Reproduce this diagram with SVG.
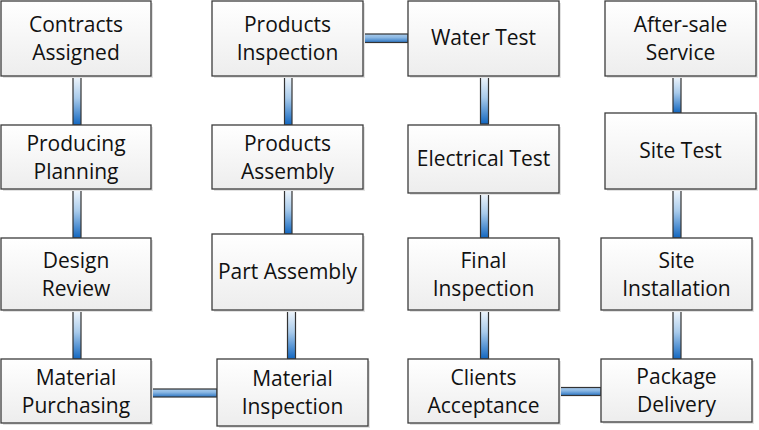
<svg xmlns="http://www.w3.org/2000/svg" width="759" height="430" viewBox="0 0 759 430">
<defs>
<linearGradient id="boxFill" x1="0" y1="0" x2="0" y2="1">
<stop offset="0" stop-color="#ffffff"/>
<stop offset="1" stop-color="#ededed"/>
</linearGradient>
<linearGradient id="vBar" x1="0" y1="0" x2="0" y2="1">
<stop offset="0" stop-color="#f2f7fc"/>
<stop offset="0.45" stop-color="#a9cbeb"/>
<stop offset="1" stop-color="#1166c0"/>
</linearGradient>
<linearGradient id="hBar" x1="0" y1="0" x2="0" y2="1">
<stop offset="0" stop-color="#a8cbec"/>
<stop offset="0.4" stop-color="#8cb8e3"/>
<stop offset="1" stop-color="#2a74c2"/>
</linearGradient>
</defs>
<style>
.shadow{fill:#e2e2e2;}
.box{fill:url(#boxFill);stroke:#3c3c3c;stroke-width:1.3;}
.v{fill:url(#vBar);stroke:#333;stroke-width:1.2;}
.h{fill:url(#hBar);stroke:#333;stroke-width:1.2;}
text{font-family:"Open Sans","Noto Sans","Liberation Sans",sans-serif;font-size:21px;fill:#111;text-anchor:middle;}
</style>
<rect width="759" height="430" fill="#ffffff"/>
<g id="connectors">
<rect class="v" x="73" y="76" width="8" height="49"/>
<rect class="v" x="73" y="189" width="8" height="49"/>
<rect class="v" x="73" y="310" width="8" height="49"/>
<rect class="h" x="151" y="389" width="66" height="8"/>
<rect class="v" x="287.5" y="310" width="8" height="49"/>
<rect class="v" x="284.5" y="189" width="7.5" height="45"/>
<rect class="v" x="284.5" y="76" width="7.5" height="49"/>
<rect class="h" x="363" y="34" width="45" height="8.5"/>
<rect class="v" x="480.5" y="76" width="8" height="48"/>
<rect class="v" x="480.5" y="193" width="8" height="45"/>
<rect class="v" x="480.5" y="310" width="8" height="49"/>
<rect class="h" x="559" y="387.5" width="42" height="8"/>
<rect class="v" x="673" y="310" width="8" height="49"/>
<rect class="v" x="673" y="189" width="8" height="49"/>
<rect class="v" x="673" y="76" width="8" height="37"/>
</g>
<g id="n-contracts-assigned">
<rect class="shadow" x="3" y="3" width="150" height="75"/>
<rect class="box" x="1" y="1" width="150" height="75"/>
<text x="76" y="32">Contracts</text><text x="76" y="60">Assigned</text>
</g>
<g id="n-producing-planning">
<rect class="shadow" x="3" y="127" width="150" height="64"/>
<rect class="box" x="1" y="125" width="150" height="64"/>
<text x="76" y="150.5">Producing</text><text x="76" y="178.5">Planning</text>
</g>
<g id="n-design-review">
<rect class="shadow" x="3" y="240" width="150" height="72"/>
<rect class="box" x="1" y="238" width="150" height="72"/>
<text x="76" y="267.5">Design</text><text x="76" y="295.5">Review</text>
</g>
<g id="n-material-purchasing">
<rect class="shadow" x="3" y="361" width="150" height="64"/>
<rect class="box" x="1" y="359" width="150" height="64"/>
<text x="76" y="384.5">Material</text><text x="76" y="412.5">Purchasing</text>
</g>
<g id="n-products-inspection">
<rect class="shadow" x="214" y="3" width="151" height="75"/>
<rect class="box" x="212" y="1" width="151" height="75"/>
<text x="287.5" y="32">Products</text><text x="287.5" y="60">Inspection</text>
</g>
<g id="n-products-assembly">
<rect class="shadow" x="214" y="127" width="151" height="64"/>
<rect class="box" x="212" y="125" width="151" height="64"/>
<text x="287.5" y="150.5">Products</text><text x="287.5" y="178.5">Assembly</text>
</g>
<g id="n-part-assembly">
<rect class="shadow" x="214" y="236" width="151" height="76"/>
<rect class="box" x="212" y="234" width="151" height="76"/>
<text x="287.5" y="279">Part Assembly</text>
</g>
<g id="n-material-inspection">
<rect class="shadow" x="219" y="361" width="151" height="67"/>
<rect class="box" x="217" y="359" width="151" height="67"/>
<text x="292.5" y="386">Material</text><text x="292.5" y="414">Inspection</text>
</g>
<g id="n-water-test">
<rect class="shadow" x="410" y="3" width="151" height="75"/>
<rect class="box" x="408" y="1" width="151" height="75"/>
<text x="483.5" y="45">Water Test</text>
</g>
<g id="n-electrical-test">
<rect class="shadow" x="410" y="127" width="151" height="68"/>
<rect class="box" x="408" y="125" width="151" height="68"/>
<text x="483.5" y="166">Electrical Test</text>
</g>
<g id="n-final-inspection">
<rect class="shadow" x="410" y="240" width="151" height="72"/>
<rect class="box" x="408" y="238" width="151" height="72"/>
<text x="483.5" y="267.5">Final</text><text x="483.5" y="295.5">Inspection</text>
</g>
<g id="n-clients-acceptance">
<rect class="shadow" x="410" y="361" width="151" height="64"/>
<rect class="box" x="408" y="359" width="151" height="64"/>
<text x="483.5" y="384.5">Clients</text><text x="483.5" y="412.5">Acceptance</text>
</g>
<g id="n-after-sale-service">
<rect class="shadow" x="607" y="3" width="151" height="75"/>
<rect class="box" x="605" y="1" width="151" height="75"/>
<text x="680.5" y="32">After-sale</text><text x="680.5" y="60">Service</text>
</g>
<g id="n-site-test">
<rect class="shadow" x="607" y="115" width="151" height="76"/>
<rect class="box" x="605" y="113" width="151" height="76"/>
<text x="680.5" y="158">Site Test</text>
</g>
<g id="n-site-installation">
<rect class="shadow" x="603" y="240" width="151" height="72"/>
<rect class="box" x="601" y="238" width="151" height="72"/>
<text x="676.5" y="267.5">Site</text><text x="676.5" y="295.5">Installation</text>
</g>
<g id="n-package-delivery">
<rect class="shadow" x="603" y="361" width="151" height="63"/>
<rect class="box" x="601" y="359" width="151" height="63"/>
<text x="676.5" y="384">Package</text><text x="676.5" y="412">Delivery</text>
</g>
</svg>
